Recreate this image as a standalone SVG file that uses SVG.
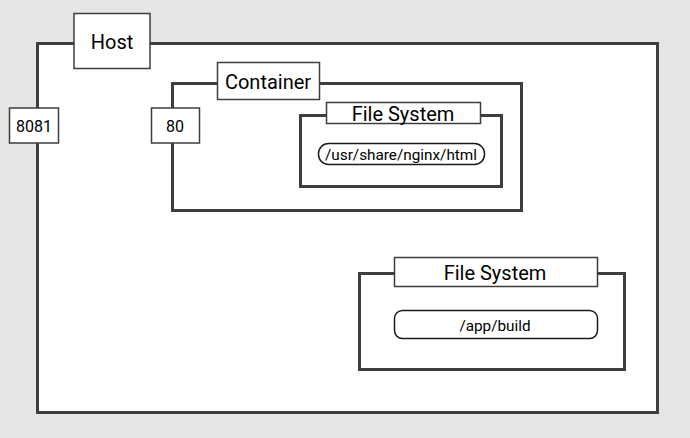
<svg xmlns="http://www.w3.org/2000/svg" width="690" height="438" viewBox="0 0 690 438">
<style>
.frame{fill:#ffffff;stroke:#413d3d;stroke-width:3}
.lbl{fill:#ffffff;stroke:#413d3d;stroke-width:1.5}
.pill{fill:#ffffff;stroke:#1a1a1a;stroke-width:1.5}
text{font-family:Roboto,"Liberation Sans",sans-serif;fill:#000;text-anchor:middle;dominant-baseline:central}
.big{font-size:20px}
.med{font-size:16px}
.sm{font-size:15.3px}
</style>
<rect width="690" height="438" fill="#e6e6e6"/>
<g id="host">
<rect class="frame" x="37.5" y="43.5" width="620" height="369"/>
<rect class="lbl" x="74" y="13.5" width="76" height="55"/>
<text class="big" x="112" y="42">Host</text>
</g>
<g id="port8081">
<rect class="lbl" x="9.5" y="108" width="49" height="35"/>
<text class="med" x="34" y="126">8081</text>
</g>
<g id="container">
<rect class="frame" x="172.5" y="83.5" width="349" height="127"/>
<rect class="lbl" x="217.5" y="62.5" width="102" height="37"/>
<text class="big" x="268" y="82">Container</text>
</g>
<g id="port80">
<rect class="lbl" x="151.5" y="108" width="48" height="35"/>
<text class="med" x="175" y="126">80</text>
</g>
<g id="fs-container">
<rect class="frame" x="300.5" y="115.5" width="201" height="71"/>
<rect class="lbl" x="326.5" y="102.5" width="154" height="21"/>
<text class="big" x="403" y="114">File System</text>
<rect class="pill" x="318.5" y="143.5" width="166" height="21" rx="10"/>
<text class="sm" x="401" y="155">/usr/share/nginx/html</text>
</g>
<g id="fs-host">
<rect class="frame" x="359.5" y="273.5" width="265" height="96"/>
<rect class="lbl" x="394.5" y="257.5" width="203" height="29"/>
<text class="big" x="495" y="272.5">File System</text>
<rect class="pill" x="394.5" y="310.5" width="203" height="28" rx="8"/>
<text class="sm" x="495" y="325.5">/app/build</text>
</g>
<g id="connectors"></g>
</svg>
